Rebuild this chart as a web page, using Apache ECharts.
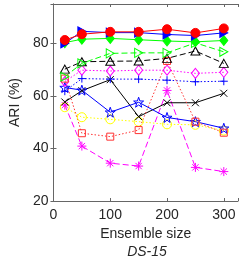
<!DOCTYPE html>
<html><head><meta charset="utf-8">
<script src="https://cdn.jsdelivr.net/npm/echarts@6/dist/echarts.min.js"></script>
<style>html,body{margin:0;padding:0;background:#fff}#c{width:241px;height:258px}</style>
</head><body><div id="c"></div>
<script>
var sizes = [20, 50, 100, 150, 200, 250, 300];
var xTicks = [0, 100, 200, 300];
var yTicks = [20, 40, 60, 80];
var redCircle = [81.3, 83.5, 84.4, 84.4, 85.4, 84.0, 85.7];
var blueTri = [80.0, 84.6, 84.1, 84.1, 83.4, 83.0, 84.0];
var greenDiamond = [80.3, 81.6, 81.9, 81.4, 80.9, 80.6, 81.1];
var greenTri = [67.3, 72.4, 76.2, 76.4, 76.4, 80.2, 76.8];
var blackTri = [70.2, 73.0, 73.2, 73.3, 74.3, 77.1, 72.4];
var redSquare = [66.6, 45.8, 44.5, 47.0, 73.3, 50.2, 46.0];
var magentaDiamond = [65.5, 69.8, 69.5, 69.8, 69.8, 68.6, 69.0];
var bluePlus = [61.8, 66.6, 66.4, 66.4, 66.0, 65.4, 65.6];
var blueStar = [63.2, 62.2, 53.8, 57.6, 51.8, 50.2, 47.7];
var blackX = [57.7, 62.0, 66.2, 52.1, 57.4, 57.4, 61.0];
var yellowCircle = [55.7, 51.9, 51.1, 50.2, 49.2, 49.0, 46.8];
var magentaAst = [56.5, 40.9, 34.4, 33.3, 62.1, 32.8, 31.2];

var PLUS = 'path://M0,5L10,5M5,0L5,10';
var CROSS = 'path://M0,0L10,10M10,0L0,10';
var AST = 'path://M5,0L5,10M0,5L10,5M1.5,1.5L8.5,8.5M8.5,1.5L1.5,8.5';
var STAR = (function(){
  var p = [];
  for (var i = 0; i < 10; i++) {
    var r = i % 2 ? 2 : 5;
    var a = -Math.PI/2 + i*Math.PI/5;
    p.push((5 + r*Math.cos(a)).toFixed(2) + ',' + (5 + r*Math.sin(a)).toFixed(2));
  }
  return 'path://M' + p.join('L') + 'Z';
})();

function mk(vals, color, lineType, symbol, size, filled, rotate) {
  return {
    type: 'line',
    data: sizes.map(function(s, i){ return [s, vals[i]]; }),
    symbol: symbol,
    symbolSize: size,
    symbolRotate: rotate || 0,
    showAllSymbol: true,
    animation: false,
    lineStyle: { color: color, width: 1, type: lineType },
    itemStyle: { color: filled ? color : 'none', borderColor: color, borderWidth: 1 }
  };
}
var dash = [6, 3], dot = [1.5, 2];
var tickFmt = function(list){ return function(v){ return list.indexOf(v) >= 0 ? String(v) : ''; }; };
var axCol = '#666';
var chart = echarts.init(document.getElementById('c'), null, {renderer: 'canvas'});
chart.setOption({
  backgroundColor: '#fff',
  animation: false,
  textStyle: { fontFamily: 'Liberation Sans, Arial, sans-serif' },
  grid: { left: 44, right: 1, top: 4, bottom: 57, containLabel: false },
  xAxis: [{
    type: 'value', min: 0, max: 325, interval: 100, position: 'bottom',
    splitLine: { show: false },
    axisLine: { show: true, lineStyle: { color: axCol, width: 1 } },
    axisTick: { show: true, inside: true, length: 3, lineStyle: { color: axCol } },
    axisLabel: { show: true, color: '#262626', fontSize: 14, margin: 7, formatter: tickFmt(xTicks), fontFamily: 'Liberation Sans' },
    name: 'Ensemble size', nameLocation: 'middle', nameGap: 24,
    nameTextStyle: { color: '#262626', fontSize: 14, fontFamily: 'Liberation Sans' }
  }, {
    type: 'value', min: 0, max: 325, interval: 100, position: 'top',
    splitLine: { show: false },
    axisLine: { show: true, lineStyle: { color: axCol, width: 1 } },
    axisTick: { show: true, inside: true, length: 3, lineStyle: { color: axCol } },
    axisLabel: { show: false }
  }],
  yAxis: [{
    type: 'value', min: 20, max: 95, interval: 20, position: 'left',
    splitLine: { show: false },
    axisLine: { show: true, lineStyle: { color: axCol, width: 1 } },
    axisTick: { show: true, inside: true, length: 3, lineStyle: { color: axCol } },
    axisLabel: { show: true, color: '#262626', fontSize: 14, margin: 5, formatter: tickFmt(yTicks), fontFamily: 'Liberation Sans' },
    name: 'ARI (%)', nameLocation: 'middle', nameGap: 24, nameRotate: 90,
    nameTextStyle: { color: '#262626', fontSize: 14, fontFamily: 'Liberation Sans' }
  }, {
    type: 'value', min: 20, max: 95, interval: 20, position: 'right',
    splitLine: { show: false },
    axisLine: { show: true, lineStyle: { color: axCol, width: 1 } },
    axisTick: { show: true, inside: true, length: 3, lineStyle: { color: axCol } },
    axisLabel: { show: false }
  }],
  title: {
    text: 'DS-15', left: 142, textAlign: 'center', top: 240,
    textStyle: { fontSize: 14, fontStyle: 'italic', fontWeight: 'normal', color: '#262626', fontFamily: 'Liberation Sans' }
  },
  series: [
    mk(magentaAst, '#ff00ff', dash, AST, 9, false),
    mk(yellowCircle, '#ffff00', dot, 'circle', 9, false),
    mk(blackX, '#000000', 'solid', CROSS, 7, false),
    mk(blueStar, '#0000ff', 'solid', STAR, 10, false),
    mk(bluePlus, '#0000ff', dot, PLUS, 8, false),
    mk(magentaDiamond, '#ff00ff', dot, 'diamond', [8, 10], false),
    mk(redSquare, '#ff3333', dot, 'rect', 7, false),
    mk(blackTri, '#000000', dash, 'triangle', [9, 8], false),
    mk(greenTri, '#00ff00', dash, 'triangle', [9, 8], false, -90),
    mk(greenDiamond, '#00ff00', 'solid', 'diamond', [8, 10], true),
    mk(blueTri, '#0000ff', 'solid', 'triangle', [9, 8], true, -90),
    mk(redCircle, '#ff0000', 'solid', 'circle', 9, true)
  ]
});
</script></body></html>
